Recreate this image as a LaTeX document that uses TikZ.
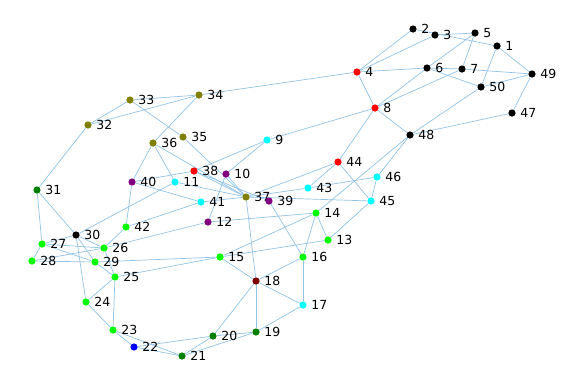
\documentclass[tikz,border=0pt]{standalone}
\usepackage{fontspec}
\setmainfont{DejaVu Sans}
\usetikzlibrary{backgrounds}
\definecolor{edgec}{RGB}{145,195,230}
\definecolor{cK}{RGB}{0,0,0}
\definecolor{cR}{RGB}{255,0,0}
\definecolor{cC}{RGB}{0,255,255}
\definecolor{cP}{RGB}{128,0,128}
\definecolor{cO}{RGB}{128,128,0}
\definecolor{cL}{RGB}{0,255,0}
\definecolor{cG}{RGB}{0,128,0}
\definecolor{cB}{RGB}{0,0,255}
\definecolor{cM}{RGB}{128,0,0}
\begin{document}
\begin{tikzpicture}[x=1pt,y=-1pt,
  dot/.style={circle,inner sep=0pt,minimum size=7.2pt,draw=none},
  lab/.style={font=\fontsize{12.5}{12.5}\selectfont,inner sep=0pt,text=black},
  edge/.style={draw=edgec,line width=0.7pt}]
\useasboundingbox (0,0) rectangle (581,384);
\foreach \n/\x/\y/\c in {
 1/497/46/cK, 2/413/29/cK, 3/435/35/cK, 4/357/72/cR, 5/475/33/cK,
 6/427/68/cK, 7/462/69/cK, 8/375/108/cR, 9/267/140/cC, 10/226/174/cP,
 11/175/182/cC, 12/208/222/cP, 13/328/240/cL, 14/316/213/cL, 15/220/257/cL,
 16/303/257/cL, 17/303/305/cC, 18/256/281/cM, 19/256/332/cG, 20/213/336/cG,
 21/182/356/cG, 22/134/347/cB, 23/113/330/cL, 24/86/302/cL, 25/115/277/cL,
 26/104/248/cL, 27/42/244/cL, 28/32/261/cL, 29/95/262/cL, 30/76/235/cK,
 31/37/190/cG, 32/88/125/cO, 33/130/100/cO, 34/199/95/cO, 35/183/137/cO,
 36/153/143/cO, 37/246/197/cO, 38/194/171/cR, 39/269/201/cP, 40/132/182/cP,
 41/201/202/cC, 42/126/227/cL, 43/308/188/cC, 44/338/162/cR, 45/371/201/cC,
 46/377/177/cC, 47/512/113/cK, 48/410/135/cK, 49/532/74/cK, 50/481/87/cK}
 \node[dot,fill=\c,label={[lab,label distance=4.3pt]right:\n}] (n\n) at (\x,\y) {};
\begin{pgfonlayer}{background}
\foreach \a/\b in {
 4/2, 4/3, 2/1, 3/5, 5/6, 6/8, 5/7, 1/50, 1/49, 4/6, 6/7, 7/49, 6/50, 49/50,
 49/47, 47/48, 50/48, 4/8, 8/48, 8/7, 8/9, 8/44, 4/34,
 32/33, 32/34, 33/34, 31/32, 33/35, 34/36, 35/37, 36/40, 36/11, 36/37,
 38/9, 9/10, 38/40, 38/37, 38/39, 11/37, 40/41, 41/37, 10/37, 10/12,
 40/42, 11/30, 42/41, 42/26, 12/26, 12/14,
 44/43, 44/45, 44/37, 43/37, 43/46, 46/45, 37/45, 45/13, 48/46, 48/14,
 14/13, 14/16, 14/15, 13/15, 39/16, 37/18,
 16/18, 16/17, 18/15, 18/17, 18/20, 18/19, 19/17, 19/20, 21/20, 21/19,
 22/20, 22/21, 23/22, 23/21, 24/23, 25/23, 25/24, 25/26, 25/29, 25/15,
 29/15, 28/29, 27/28, 27/29, 27/26, 28/26, 27/30, 30/29, 30/26, 30/24,
 30/31, 31/27}
 \draw[edge] (n\a) -- (n\b);
\end{pgfonlayer}
\end{tikzpicture}
\end{document}
